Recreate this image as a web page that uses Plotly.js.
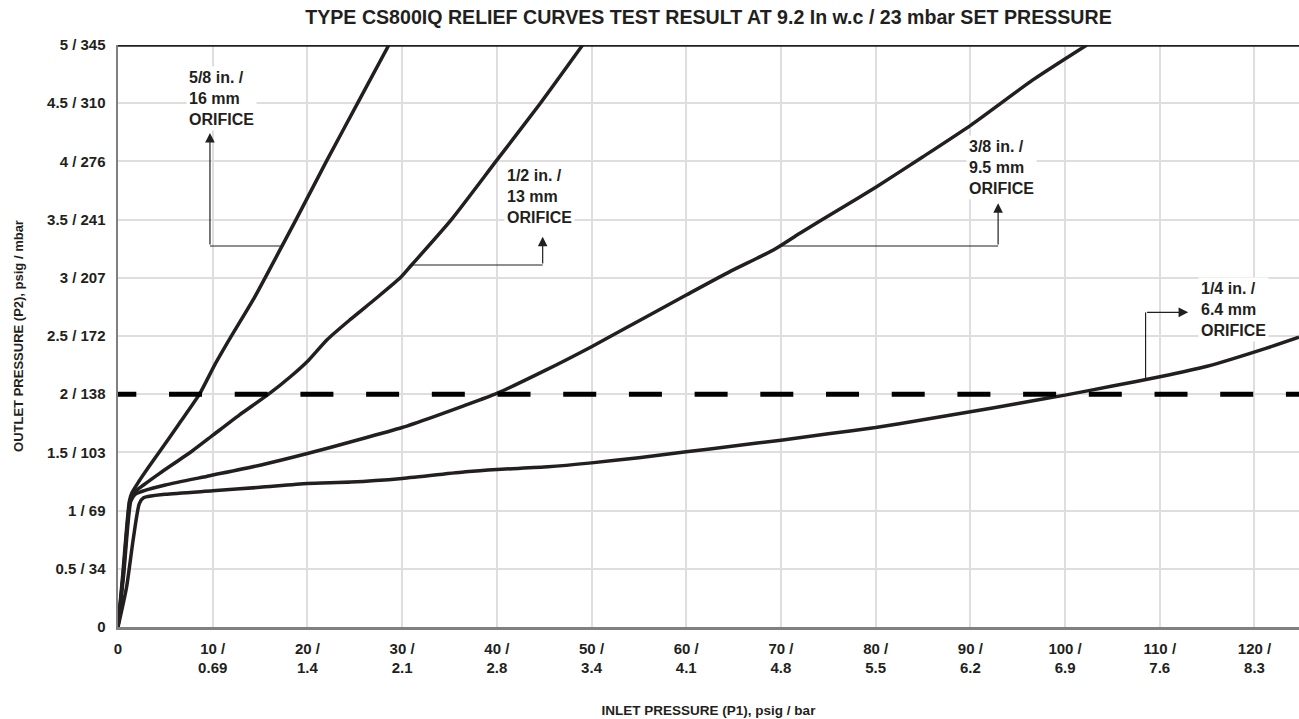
<!DOCTYPE html>
<html>
<head>
<meta charset="utf-8">
<script src="https://cdn.plot.ly/plotly-3.0.1.min.js"></script>
<style>html,body{margin:0;padding:0;background:#fff;}#chart{width:1299px;height:719px;}</style>
</head>
<body>
<div id="chart"></div>
<script>
// ---- data ----
const titleText = "TYPE CS800IQ RELIEF CURVES TEST RESULT AT 9.2 In w.c / 23 mbar SET PRESSURE";
const xTitle = "INLET PRESSURE (P1), psig / bar";
const yTitle = "OUTLET PRESSURE (P2), psig / mbar";

const xTickVals = [0, 10, 20, 30, 40, 50, 60, 70, 80, 90, 100, 110, 120];
const xTickText = ["0", "10 /<br>0.69", "20 /<br>1.4", "30 /<br>2.1", "40 /<br>2.8", "50 /<br>3.4", "60 /<br>4.1", "70 /<br>4.8", "80 /<br>5.5", "90 /<br>6.2", "100 /<br>6.9", "110 /<br>7.6", "120 /<br>8.3"];
const yTickVals = [0, 0.5, 1, 1.5, 2, 2.5, 3, 3.5, 4, 4.5, 5];
const yTickText = ["0", "0.5 / 34", "1 / 69", "1.5 / 103", "2 / 138", "2.5 / 172", "3 / 207", "3.5 / 241", "4 / 276", "4.5 / 310", "5 / 345"];

const xRange = [0, 124.7];
const yRange = [0, 5];

// 5/8 in. / 16 mm orifice
const x58 = [0, 0.5, 1.2, 1.45, 2.2, 3.2, 4.25, 6.4, 8.6, 10.2, 11.9, 14.4, 17.3, 18.8, 22.0, 25.3, 28.6];
const y58 = [0, 0.45, 1.08, 1.15, 1.25, 1.37, 1.49, 1.74, 2.0, 2.25, 2.49, 2.83, 3.27, 3.5, 4.0, 4.5, 5.0];
// 1/2 in. / 13 mm orifice
const x12 = [0, 0.55, 1.25, 1.6, 2.7, 4.4, 7.8, 10.06, 12.8, 15.9, 18.2, 20.1, 22.1, 24.5, 27.2, 29.8, 31.0, 35.2, 39.9, 44.6, 49.06];
const y12 = [0, 0.45, 1.08, 1.15, 1.22, 1.32, 1.51, 1.65, 1.82, 2.0, 2.15, 2.29, 2.47, 2.64, 2.82, 3.0, 3.11, 3.5, 4.0, 4.5, 5.0];
// 3/8 in. / 9.5 mm orifice
const x38 = [0, 0.6, 1.35, 1.8, 2.7, 5, 9.7, 15, 20, 25, 30, 33.3, 36.5, 40, 45, 50, 55.8, 60, 64.6, 69.2, 72, 76, 80.1, 85, 90.1, 96.6, 102.3];
const y38 = [0, 0.45, 1.08, 1.14, 1.17, 1.22, 1.30, 1.39, 1.49, 1.60, 1.714, 1.806, 1.9, 2.007, 2.20, 2.408, 2.666, 2.852, 3.053, 3.239, 3.383, 3.58, 3.783, 4.04, 4.314, 4.70, 5.0];
// 1/4 in. / 6.4 mm orifice
const x14 = [0, 0.9, 1.6, 2.25, 2.7, 5, 10, 15, 20, 24.6, 30, 36.7, 40, 45.4, 50, 55, 60, 65, 70, 75, 80, 85, 90, 95, 100, 105, 110, 115, 121.2, 124.7];
const y14 = [0, 0.34, 0.75, 1.06, 1.11, 1.14, 1.17, 1.20, 1.233, 1.245, 1.276, 1.333, 1.353, 1.376, 1.41, 1.455, 1.505, 1.555, 1.605, 1.66, 1.714, 1.78, 1.849, 1.92, 1.992, 2.07, 2.15, 2.24, 2.394, 2.49];

// set-pressure reference line
const setLineX = [-1.55, 124.7];
const setLineY = [2, 2];

// labels: text, text anchor (left, middle line), leader start on curve, corner, arrow tip
const labelText = ["5/8 in. /<br>16 mm<br>ORIFICE", "1/2 in. /<br>13 mm<br>ORIFICE", "3/8 in. /<br>9.5 mm<br>ORIFICE", "1/4 in. /<br>6.4 mm<br>ORIFICE"];
const labelX = [7.6, 41.2, 89.94, 114.5];
const labelY = [4.543, 3.697, 3.947, 2.732];
const leaderStartX = [17.3, 31.0, 69.9, 108.5];
const leaderStartY = [3.273, 3.110, 3.273, 2.121];
const leaderCornerX = [9.71, 44.84, 92.93, 108.5];
const leaderCornerY = [3.273, 3.110, 3.273, 2.703];
const arrowTipX = [9.71, 44.84, 92.93, 113.0];
const arrowTipY = [4.244, 3.353, 3.641, 2.703];

// ---- drawing ----
const ink = '#231f20';
const fontFam = '"Liberation Sans", Arial, Helvetica, sans-serif';

function curve(x, y) {
  return {x: x, y: y, type: 'scatter', mode: 'lines', line: {color: ink, width: 3.5, shape: 'spline', smoothing: 0.6}, hoverinfo: 'skip'};
}
const traces = [curve(x58, y58), curve(x12, y12), curve(x38, y38), curve(x14, y14),
  {x: setLineX, y: setLineY, type: 'scatter', mode: 'lines', line: {color: '#000', width: 5, dash: '33px,32.7px'}, hoverinfo: 'skip'}];

const shapes = [
  {type: 'line', xref: 'paper', x0: 0, x1: 1, yref: 'y', y0: yRange[1], y1: yRange[1], line: {color: ink, width: 3.5}, layer: 'above'}
];
const annotations = [];
for (let i = 0; i < labelText.length; i++) {
  shapes.push({type: 'line', xref: 'x', yref: 'y', x0: leaderStartX[i], y0: leaderStartY[i], x1: leaderCornerX[i], y1: leaderCornerY[i], line: {color: ink, width: 1.2}});
  annotations.push({x: arrowTipX[i], y: arrowTipY[i], ax: leaderCornerX[i], ay: leaderCornerY[i], axref: 'x', ayref: 'y', xref: 'x', yref: 'y',
    text: '', showarrow: true, arrowhead: 2, arrowsize: 1.6, arrowwidth: 1.2, arrowcolor: ink, standoff: 0, startstandoff: 0});
  annotations.push({x: labelX[i], y: labelY[i], xref: 'x', yref: 'y', xanchor: 'left', yanchor: 'middle', align: 'left',
    text: labelText[i], showarrow: false, bgcolor: '#ffffff', borderpad: 2, xshift: -4,
    font: {family: fontFam, size: 16, color: ink, weight: 700}});
}

const axisCommon = {
  showgrid: true, gridcolor: '#dedede', gridwidth: 2, zeroline: false,
  showline: true, linecolor: '#808080', linewidth: 2.5, ticks: '', tickmode: 'array',
  tickfont: {family: fontFam, size: 15, color: ink, weight: 700}, fixedrange: true
};

const layout = {
  width: 1299, height: 719,
  margin: {l: 118, r: 0, t: 45, b: 92, pad: 0},
  paper_bgcolor: '#ffffff', plot_bgcolor: '#ffffff', showlegend: false,
  font: {family: fontFam, color: ink},
  title: {text: titleText, font: {family: fontFam, size: 19.6, color: ink, weight: 700}, x: 0.5, xref: 'paper', xanchor: 'center', y: 1 - 17 / 719, yref: 'container', yanchor: 'middle'},
  xaxis: Object.assign({}, axisCommon, {range: xRange, tickvals: xTickVals, ticktext: xTickText, ticklabelstandoff: 6,
    title: {text: xTitle, font: {family: fontFam, size: 13.5, color: ink, weight: 700}, standoff: 31}}),
  yaxis: Object.assign({}, axisCommon, {range: yRange, tickvals: yTickVals, ticktext: yTickText, ticklabelstandoff: 7,
    title: {text: yTitle, font: {family: fontFam, size: 13, color: ink, weight: 700}, standoff: 21}}),
  shapes: shapes,
  annotations: annotations
};

Plotly.newPlot('chart', traces, layout, {displayModeBar: false, staticPlot: true});
</script>
</body>
</html>
